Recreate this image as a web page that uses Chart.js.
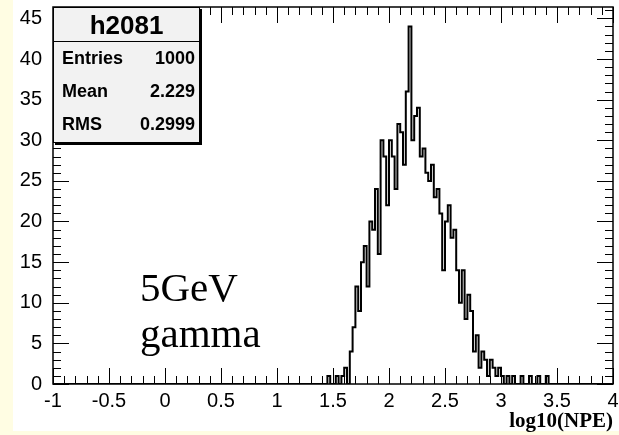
<!DOCTYPE html>
<html>
<head>
<meta charset="utf-8">
<script src="https://cdn.jsdelivr.net/npm/chart.js@4.4.1/dist/chart.umd.min.js"></script>
<style>
  body { margin: 0; background: #fffde3; }
  #pad { position: absolute; left: 13px; top: 0; width: 606px; height: 431px; background: #fff; }
  #c { position: absolute; left: 0; top: 0; }
  #stats {
    position: absolute; left: 53px; top: 7px; width: 145px; height: 134px;
    border: 1px solid #000; box-shadow: 2px 2px 0 #000; background: #f2f2f2;
    font-family: "Liberation Sans", Arial, sans-serif; font-weight: bold; color: #000;
  }
  #stats .title { height: 33px; line-height: 34px; text-align: center; font-size: 26px; border-bottom: 1px solid #000; }
  #stats .row { height: 33px; line-height: 33px; font-size: 18px; display: flex; justify-content: space-between; padding: 0 4px 0 8px; }
  .note { position: absolute; left: 140px; line-height: 41px; font-family: "Liberation Serif", "DejaVu Serif", serif; font-size: 41px; color: #000; }
</style>
</head>
<body>
<div id="pad"></div>
<canvas id="c" width="619" height="435"></canvas>
<div id="stats">
  <div class="title">h2081</div>
  <div class="row"><span>Entries</span><span>1000</span></div>
  <div class="row"><span>Mean</span><span>2.229</span></div>
  <div class="row"><span>RMS</span><span>0.2999</span></div>
</div>
<div class="note" style="top:267px">5GeV</div>
<div class="note" style="top:313px">gamma</div>
<script>
// histogram h2081: 200 bins from -1 to 4, counts
const xMin = -1;
const xMax = 4;
const binWidth = 0.025;
const firstFilledEdge = 1.45;
const counts = [
  1, 0, 0, 1, 0, 1, 2, 0, 4, 7,
  12, 9, 15, 17, 12, 20, 19, 24, 16, 30,
  28, 22, 30, 28, 24, 32, 31, 27, 36, 44,
  30, 33, 34, 28, 29, 26, 25, 27, 23, 24,
  21, 14, 20, 22, 18, 19, 14, 10, 14, 8,
  11, 9, 4, 6, 2, 4, 3, 1, 3, 2,
  1, 2, 1, 0, 1, 0, 1, 0, 0, 1,
  0, 0, 1, 0, 0, 1, 0, 0, 1
];
const xTicks = [-1, -0.5, 0, 0.5, 1, 1.5, 2, 2.5, 3, 3.5, 4];
const yMax = 46.4;

// build step points: one per bin lower edge, plus closing point at xMax
const nBins = Math.round((xMax - xMin) / binWidth);
const offset = Math.round((firstFilledEdge - xMin) / binWidth);
const points = [];
for (let i = 0; i < nBins; i++) {
  const j = i - offset;
  const y = (j >= 0 && j < counts.length) ? counts[j] : 0;
  points.push({ x: +(xMin + i * binWidth).toFixed(3), y: y });
}
points.push({ x: xMax, y: 0 });

// ROOT-like frame with inward ticks on all four sides
const frameTicks = {
  id: 'frameTicks',
  afterDatasetsDraw(chart) {
    const { ctx, chartArea: a, scales: { x, y } } = chart;
    ctx.save();
    ctx.strokeStyle = '#000';
    ctx.lineWidth = 1;
    ctx.beginPath();
    for (let k = 0; k <= 50; k++) {
      const v = xMin + k * 0.1;
      const px = Math.round(x.getPixelForValue(v)) + 0.5;
      const len = (k % 5 === 0) ? 16 : 8;
      ctx.moveTo(px, a.bottom); ctx.lineTo(px, a.bottom - len);
      ctx.moveTo(px, a.top); ctx.lineTo(px, a.top + len);
    }
    for (let v = 0; v <= 46; v++) {
      const py = Math.round(y.getPixelForValue(v)) + 0.5;
      const len = (v % 5 === 0) ? 16 : 8;
      ctx.moveTo(a.left, py); ctx.lineTo(a.left + len, py);
      ctx.moveTo(a.right, py); ctx.lineTo(a.right - len, py);
    }
    ctx.stroke();
    ctx.lineWidth = 1.5;
    ctx.strokeRect(a.left, a.top, a.right - a.left, a.bottom - a.top);
    ctx.restore();
  }
};

const ctx = document.getElementById('c').getContext('2d');
const histChart = new Chart(ctx, {
  type: 'line',
  data: {
    datasets: [{
      data: points,
      stepped: true,
      borderColor: '#000',
      borderWidth: 2,
      pointRadius: 0,
      fill: false
    }]
  },
  options: {
    responsive: false,
    animation: false,
    layout: { padding: { left: 13, top: 7, right: 6, bottom: 1 } },
    plugins: { legend: { display: false }, tooltip: { enabled: false } },
    scales: {
      x: {
        type: 'linear',
        min: xMin,
        max: xMax,
        grid: { display: false },
        border: { display: false },
        afterFit: s => { s.height = 50; s.paddingLeft = 0; s.paddingRight = 0; },
        afterBuildTicks: s => { s.ticks = xTicks.map(v => ({ value: v })); },
        ticks: {
          color: '#000',
          padding: -3,
          maxRotation: 0,
          autoSkip: false,
          callback: v => String(v),
          font: { family: '"Liberation Sans", Arial, sans-serif', size: 20 }
        },
        title: {
          display: true,
          text: 'log10(NPE)',
          align: 'end',
          color: '#000',
          padding: 0,
          font: { family: '"Liberation Serif", "Times New Roman", serif', size: 21, weight: 'bold' }
        }
      },
      y: {
        min: 0,
        max: yMax,
        grid: { display: false },
        border: { display: false },
        afterFit: s => { s.width = 40; s.paddingTop = 0; s.paddingBottom = 0; },
        ticks: {
          stepSize: 5,
          includeBounds: false,
          color: '#000',
          padding: 3,
          font: { family: '"Liberation Sans", Arial, sans-serif', size: 20 }
        }
      }
    }
  },
  plugins: [frameTicks]
});
</script>
</body>
</html>
